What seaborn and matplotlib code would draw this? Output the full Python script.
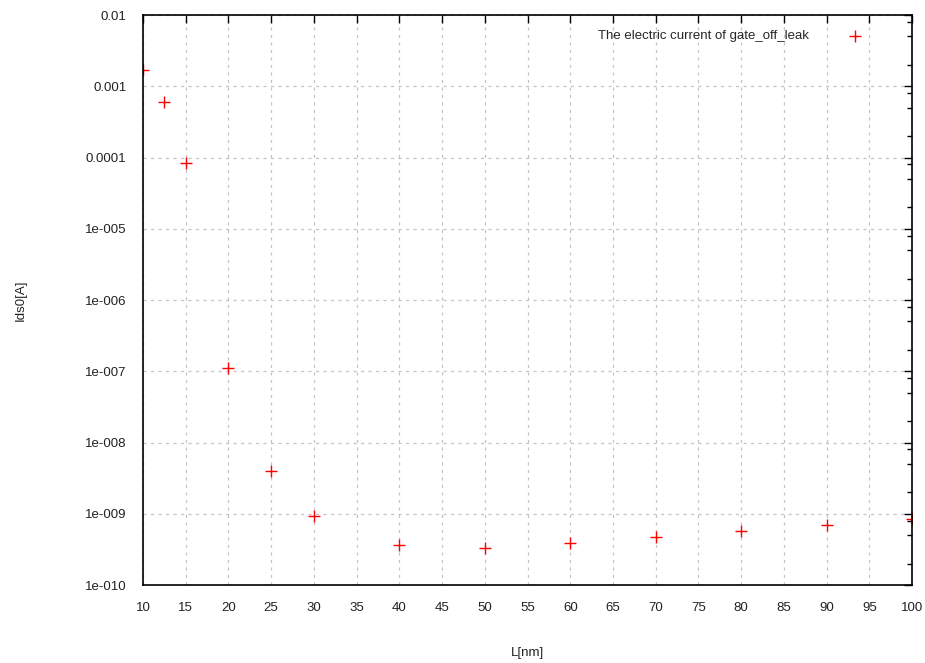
import numpy as np
import pandas as pd
import matplotlib
matplotlib.use('Agg')
import matplotlib.pyplot as plt
import matplotlib.ticker as mticker
import seaborn as sns

L_nm = [10, 12.5, 15, 20, 25, 30, 40, 50, 60, 70, 80, 90, 100]
ids0 = [1.69e-3, 6.05e-4, 8.3e-5, 1.11e-7, 3.98e-9, 9.3e-10,
        3.63e-10, 3.36e-10, 3.83e-10, 4.71e-10, 5.71e-10, 6.94e-10, 8.43e-10]
x_ticks = list(range(10, 101, 5))
y_ticks = [1e-2, 1e-3, 1e-4, 1e-5, 1e-6, 1e-7, 1e-8, 1e-9, 1e-10]
y_labels = ['0.01', '0.001', '0.0001', '1e-005', '1e-006', '1e-007',
            '1e-008', '1e-009', '1e-010']

df = pd.DataFrame({'L': L_nm, 'Ids0': ids0})

sns.set_style("white")
plt.rcParams['font.family'] = ['Liberation Sans', 'DejaVu Sans']

fig = plt.figure(figsize=(9.25, 6.63), dpi=100)
ax = fig.add_axes([0.1546, 0.1176, 0.8314, 0.8597])

sns.scatterplot(data=df, x='L', y='Ids0', ax=ax, marker='+', color='#ff0000',
                s=70, linewidth=1.0, label='The electric current of gate_off_leak')

ax.set_yscale('log')
ax.set_xlim(10, 100)
ax.set_ylim(1e-10, 1e-2)
ax.xaxis.set_major_locator(mticker.FixedLocator(x_ticks))
ax.set_xticklabels([str(t) for t in x_ticks])
ax.yaxis.set_major_locator(mticker.FixedLocator(y_ticks))
ax.set_yticklabels(y_labels)
ax.yaxis.set_minor_locator(mticker.LogLocator(base=10, subs=[2, 5, 8]))
ax.yaxis.set_minor_formatter(mticker.NullFormatter())

ax.tick_params(which='both', direction='in', top=True, right=True,
               labelsize=9.5, colors='#222222', pad=12)
ax.tick_params(which='major', length=6, width=1, color='black')
ax.tick_params(which='minor', length=3.5, width=1, color='black')
ax.tick_params(axis='x', pad=12)

ax.grid(True, which='major', linestyle=(0, (2.5, 3.5)), color='#c4c4c4', linewidth=0.9)
for s in ax.spines.values():
    s.set_color('black')
    s.set_linewidth(1.2)

ax.set_xlabel('L[nm]', fontsize=9.5, color='#222222', labelpad=24)
ax.set_ylabel('Ids0[A]', fontsize=9.5, color='#222222', labelpad=42)

ax.legend(loc='upper right', bbox_to_anchor=(0.958, 0.995), frameon=False,
          markerfirst=False, fontsize=9.5, handletextpad=2.5)

fig.savefig('out.png', dpi=100)
